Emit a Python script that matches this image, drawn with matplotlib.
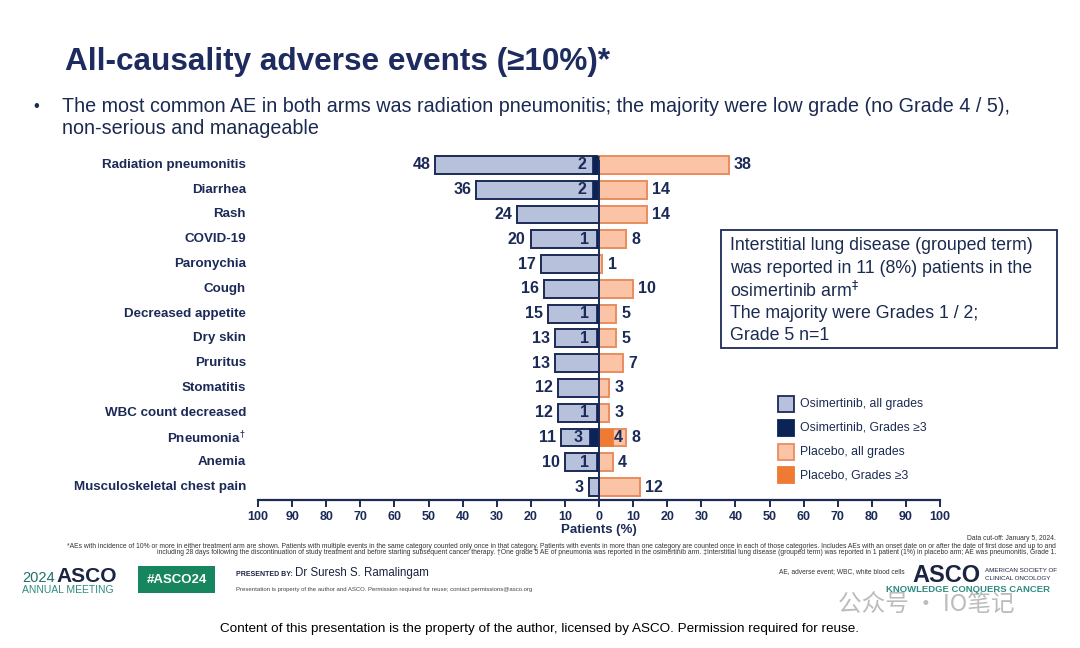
import matplotlib
matplotlib.use('agg')
import matplotlib.pyplot as plt
from matplotlib.patches import Rectangle
import numpy as np

plt.rcParams['font.family'] = ['Liberation Sans', 'DejaVu Sans']

# data
categories = ['Radiation pneumonitis', 'Diarrhea', 'Rash', 'COVID-19', 'Paronychia', 'Cough',
              'Decreased appetite', 'Dry skin', 'Pruritus', 'Stomatitis', 'WBC count decreased',
              'Pneumonia$^{\\dagger}$', 'Anemia', 'Musculoskeletal chest pain']
osi_all = [48, 36, 24, 20, 17, 16, 15, 13, 13, 12, 12, 11, 10, 3]
osi_g3 = [2, 2, 0, 1, 0, 0, 1, 1, 0, 0, 1, 3, 1, 0]
pla_all = [38, 14, 14, 8, 1, 10, 5, 5, 7, 3, 3, 8, 4, 12]
pla_g3 = [0, 0, 0, 0, 0, 0, 0, 0, 0, 0, 0, 4, 0, 0]
ticks = list(range(-100, 101, 10))

navy = '#1b2a57'
osi_light = '#b7c1dc'
osi_dark = '#0c2356'
pla_light = '#fcc4a7'
pla_edge = '#ea8c5e'
pla_dark = '#ee7a34'

fig = plt.figure(figsize=(10.8, 6.48), dpi=100)
W, H = 1080, 648

def fx(px):
    return px / W

def fy(py):
    return 1 - py / H

ax = fig.add_axes([fx(258), fy(500), fx(940) - fx(258), fy(150) - fy(500)])

y = np.arange(len(categories))
bh = 0.72
ax.barh(y, [-v for v in osi_all], height=bh, color=osi_light, edgecolor=navy, linewidth=1.4, zorder=2)
ax.barh(y, [-v for v in osi_g3], height=bh, color=osi_dark, edgecolor=osi_dark, linewidth=0.5, zorder=3)
ax.barh(y, pla_all, height=bh, color=pla_light, edgecolor=pla_edge, linewidth=1.4, zorder=2)
ax.barh(y, pla_g3, height=bh, color=pla_dark, edgecolor=pla_dark, linewidth=0.5, zorder=3)

for i in range(len(categories)):
    ax.text(-osi_all[i] - 1.5, y[i], str(osi_all[i]), ha='right', va='center',
            fontsize=11.5, fontweight='bold', color=navy)
    ax.text(pla_all[i] + 1.5, y[i], str(pla_all[i]), ha='left', va='center',
            fontsize=11.5, fontweight='bold', color=navy)
    if osi_g3[i] > 0:
        ax.text(-osi_g3[i] - 1.8, y[i], str(osi_g3[i]), ha='right', va='center',
                fontsize=11.5, fontweight='bold', color=navy, zorder=4)
    if pla_g3[i] > 0:
        ax.text(pla_g3[i] + 0.3, y[i], str(pla_g3[i]), ha='left', va='center',
                fontsize=11.5, fontweight='bold', color=navy, zorder=4)
    ax.text(-103.5, y[i], categories[i], ha='right', va='center', fontsize=9.6,
            fontweight='bold', color=navy, clip_on=False)

ax.axvline(0, color=navy, linewidth=1.4, zorder=4, ymin=0, ymax=0.97)

ax.set_xlim(-100, 100)
ax.set_ylim(13.52, -0.6)
ax.set_xticks(ticks)
ax.set_xticklabels([str(abs(t)) for t in ticks], fontsize=9, fontweight='bold', color=navy)
ax.set_yticks([])
for s in ['top', 'right', 'left']:
    ax.spines[s].set_visible(False)
ax.spines['bottom'].set_color(navy)
ax.spines['bottom'].set_linewidth(1.6)
ax.tick_params(axis='x', direction='out', length=5, width=1.4, color=navy, pad=3)
ax.set_xlabel('Patients (%)', fontsize=9.5, fontweight='bold', color=navy, labelpad=1)

# title and bullet
fig.text(fx(65), fy(62), 'All-causality adverse events (\u226510%)*', fontsize=22.7, fontweight='bold',
         color='#1d2b5e', va='center', ha='left')
fig.text(fx(33), fy(106), '\u2022', fontsize=12, color='#1b2a50', va='center')
fig.text(fx(62), fy(106), 'The most common AE in both arms was radiation pneumonitis; the majority were low grade (no Grade 4 / 5),',
         fontsize=14.2, color='#1b2a50', va='center')
fig.text(fx(62), fy(129), 'non-serious and manageable', fontsize=14.2, color='#1b2a50', va='center')

# text box
fig.patches.append(Rectangle((fx(721), fy(348)), fx(1057) - fx(721), fy(230) - fy(348),
                             transform=fig.transFigure, facecolor='white', edgecolor=navy, linewidth=1.3))
box_lines = ['Interstitial lung disease (grouped term)', 'was reported in 11 (8%) patients in the',
             'osimertinib arm$^{\u2021}$', 'The majority were Grades 1 / 2;', 'Grade 5 n=1']
for k, line in enumerate(box_lines):
    fig.text(fx(730), fy(246 + k * 22.5), line, fontsize=12.8, color='#1b2a50', va='center')

# legend
leg = [(osi_light, navy, 'Osimertinib, all grades'), (osi_dark, osi_dark, 'Osimertinib, Grades \u22653'),
       (pla_light, pla_edge, 'Placebo, all grades'), (pla_dark, pla_dark, 'Placebo, Grades \u22653')]
for k, (fc, ec, lab) in enumerate(leg):
    yc = 404 + k * 23.8
    fig.patches.append(Rectangle((fx(778), fy(yc + 8)), fx(16), fy(0) - fy(16), transform=fig.transFigure,
                                 facecolor=fc, edgecolor=ec, linewidth=1.3))
    fig.text(fx(800), fy(yc), lab, fontsize=8.8, color='#1b2a50', va='center')

# footnotes
fig.text(fx(1056), fy(539), 'Data cut-off: January 5, 2024.', fontsize=4.9, color='#333333', ha='right', va='center')
fig.text(fx(1056), fy(546), '*AEs with incidence of 10% or more in either treatment arm are shown. Patients with multiple events in the same category counted only once in that category. '
         'Patients with events in more than one category are counted once in each of those categories. Includes AEs with an onset date on or after the date of first dose and up to and',
         fontsize=4.9, color='#333333', ha='right', va='center')
fig.text(fx(1056), fy(553), 'including 28 days following the discontinuation of study treatment and before starting subsequent cancer therapy. \u2020One grade 5 AE of pneumonia was reported in the osimertinib arm. '
         '\u2021Interstitial lung disease (grouped term) was reported in 1 patient (1%) in placebo arm; AE was pneumonitis, Grade 1.',
         fontsize=4.9, color='#333333', ha='right', va='center')

# footer logos
fig.text(fx(22), fy(578), '2024', fontsize=10.5, color='#1f6e6a', va='center')
fig.text(fx(56), fy(577), 'ASCO', fontsize=15, fontweight='bold', color='#1b2440', va='center')
fig.text(fx(22), fy(590), 'ANNUAL MEETING', fontsize=7.5, color='#2f8c80', va='center')
fig.patches.append(Rectangle((fx(138), fy(593)), fx(215) - fx(138), fy(566) - fy(593), transform=fig.transFigure,
                             facecolor='#17855e', edgecolor='none'))
fig.text(fx(176.5), fy(580), '#ASCO24', fontsize=9.5, fontweight='bold', color='white', ha='center', va='center')
fig.text(fx(236), fy(574), 'PRESENTED BY:', fontsize=5, fontweight='bold', color='#1b2440', va='center')
fig.text(fx(295), fy(573), 'Dr Suresh S. Ramalingam', fontsize=8.3, color='#1b2440', va='center')
fig.text(fx(236), fy(590), 'Presentation is property of the author and ASCO. Permission required for reuse; contact permissions@asco.org',
         fontsize=4.3, color='#444444', va='center')
fig.text(fx(905), fy(572), 'AE, adverse event; WBC, white blood cells', fontsize=4.8, color='#333333', ha='right', va='center')
fig.text(fx(912), fy(575), 'ASCO', fontsize=17, fontweight='bold', color='#1b2440', va='center')
fig.text(fx(985), fy(570), 'AMERICAN SOCIETY OF', fontsize=4.5, color='#1b2440', va='center')
fig.text(fx(985), fy(578), 'CLINICAL ONCOLOGY', fontsize=4.5, color='#1b2440', va='center')
fig.text(fx(886), fy(590), 'KNOWLEDGE CONQUERS CANCER', fontsize=6.8, fontweight='bold', color='#2f8c80', va='center')

# watermark
fig.text(fx(838), fy(605), '\u516c\u4f17\u53f7 \u00b7 IO\u7b14\u8bb0', fontsize=17, color='#b5b5b5', va='center',
         family=['Noto Sans CJK SC', 'DejaVu Sans'], alpha=0.9)

fig.text(fx(539), fy(629), 'Content of this presentation is the property of the author, licensed by ASCO. Permission required for reuse.',
         fontsize=9.7, color='black', ha='center', va='center')

plt.savefig('out.png', dpi=100)
